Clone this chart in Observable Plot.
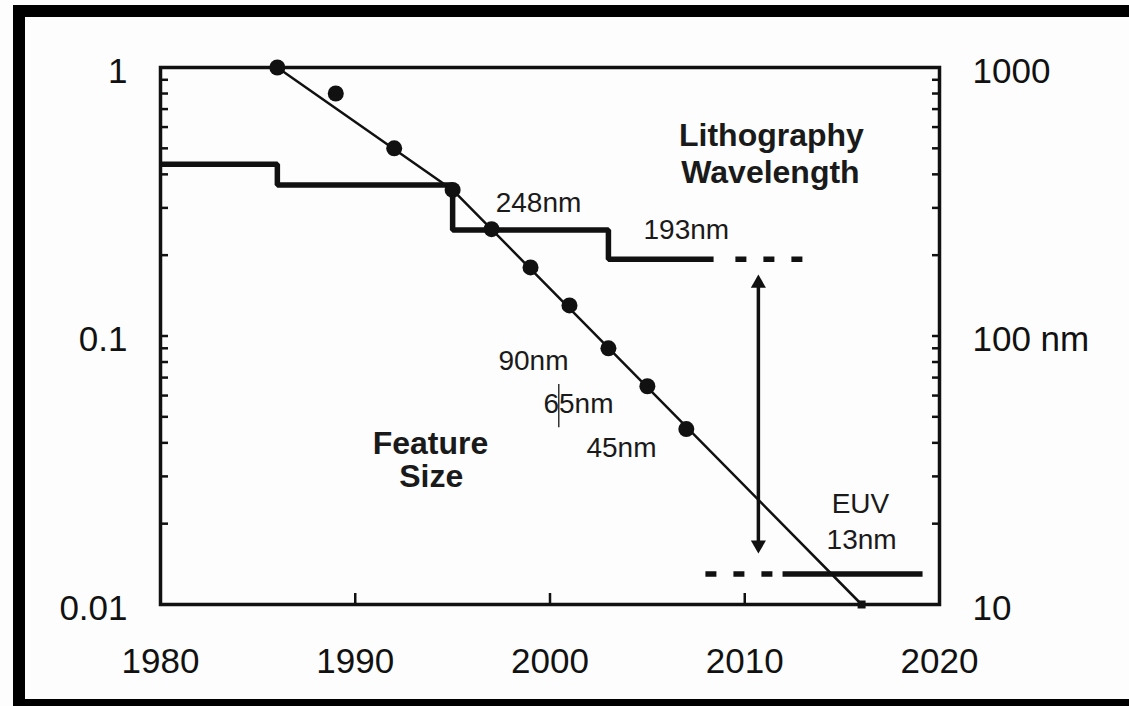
<!DOCTYPE html>
<html>
<head>
<meta charset="utf-8">
<script src="https://cdn.jsdelivr.net/npm/d3@7"></script>
<script src="https://cdn.jsdelivr.net/npm/@observablehq/plot@0.6"></script>
<style>
  html, body { margin: 0; padding: 0; background: #fff; }
  #wrap { position: relative; width: 1129px; height: 706px; overflow: hidden; background: #fdfdfd; }
  #wrap svg { position: absolute; left: 0; top: 0; }
  .bar { position: absolute; background: #000; }
</style>
</head>
<body>
<div id="wrap">
  <div class="bar" style="left:13px; top:5px; width:1116px; height:12px;"></div>
  <div class="bar" style="left:13px; top:5px; width:12px; height:701px;"></div>
  <div class="bar" style="left:13px; top:699px; width:1116px; height:7px;"></div>
</div>
<script>
// ---- Data ----
// Feature size (µm, left axis)
const featureYears = [1986, 1989, 1992, 1995, 1997, 1999, 2001, 2003, 2005, 2007];
const featureSizes = [1.0, 0.8, 0.5, 0.35, 0.25, 0.18, 0.13, 0.09, 0.065, 0.045];
// Trend line through the feature sizes
const trendYears = [1986, 1995, 2016];
const trendSizes = [1.0, 0.35, 0.01];
const trendEndYear = [2016];
const trendEndSize = [0.01];
// Lithography wavelength (nm, right axis)
const stepYears = [1980, 1986, 1995, 2003, 2008.4];
const stepWavelengths = [436, 365, 248, 193, 193];
const dashed193Years = [2009.52, 2012.97];
const dashed193Wavelength = 193;
const euvDashedYears = [2007.98, 2011.43];
const euvSolidYears = [2011.94, 2019.13];
const euvWavelength = 13;
// Gap arrow between 193nm and EUV
const arrowYear = 2010.7;
// Small cursor mark near "65nm"
const cursorYear = 2000.45;
const cursorSpan = [0.066, 0.0455];

// Axis ticks
const xTicks = [1980, 1990, 2000, 2010, 2020];
const xInnerTicks = [1990, 2000, 2010];
const leftTicks = [0.01, 0.1, 1];
const leftTickLabels = ["0.01", "0.1", "1"];
const rightTickLabels = ["10", "100 nm", "1000"];
const minorTicks = [0.02, 0.03, 0.04, 0.05, 0.06, 0.07, 0.08, 0.09, 0.1,
                    0.2, 0.3, 0.4, 0.5, 0.6, 0.7, 0.8, 0.9];

// Annotations
const noteTexts = ["248nm", "193nm", "90nm", "65nm", "45nm", "EUV", "13nm"];
const noteYears = [1999.41, 2007.0, 1999.15, 2001.46, 2003.67, 2015.94, 2016.0];
const noteValues = [0.3115, 0.249, 0.0804, 0.0556, 0.0381, 0.02357, 0.01731];
const titleTexts = ["Lithography", "Wavelength", "Feature", "Size"];
const titleYears = [2011.37, 2011.32, 1993.86, 1993.9];
const titleValues = [0.558, 0.4064, 0.0398, 0.02997];

// ---- Build tables ----
const features = featureYears.map((x, i) => ({x, y: featureSizes[i]}));
const trend = trendYears.map((x, i) => ({x, y: trendSizes[i]}));
const trendEnd = trendEndYear.map((x, i) => ({x, y: trendEndSize[i]}));
const steps = stepYears.map((x, i) => ({x, nm: stepWavelengths[i]}));
const dash193 = dashed193Years.map(x => ({x, nm: dashed193Wavelength}));
const euvDash = euvDashedYears.map(x => ({x, nm: euvWavelength}));
const euvSolid = euvSolidYears.map(x => ({x, nm: euvWavelength}));
const notes = noteTexts.map((t, i) => ({t, x: noteYears[i], y: noteValues[i]}));
const titles = titleTexts.map((t, i) => ({t, x: titleYears[i], y: titleValues[i]}));
const nmToUm = d => d.nm / 1000;

const ink = "#111";
const font = "'Liberation Sans', Arial, Helvetica, sans-serif";

const chart = Plot.plot({
  width: 1129,
  height: 706,
  marginLeft: 160,
  marginRight: 190,
  marginTop: 67,
  marginBottom: 102,
  x: {domain: [1980, 2020]},
  y: {type: "log", domain: [0.01, 1]},
  style: {fontFamily: font, color: ink, background: "transparent", overflow: "visible"},
  marks: [
    // axes labels
    Plot.axisX({ticks: xTicks, tickSize: 0, tickPadding: 44, fontSize: 35, tickFormat: d => String(d), label: null}),
    Plot.axisX({ticks: xInnerTicks, tickSize: 11, dy: -11, strokeWidth: 2.5, tickFormat: () => "", label: null}),
    Plot.axisY({anchor: "left", ticks: leftTicks, tickSize: 0, tickPadding: 33, dy: 4, fontSize: 35,
      tickFormat: d => leftTickLabels[leftTicks.indexOf(d)], label: null}),
    Plot.axisY({anchor: "right", ticks: leftTicks, tickSize: 0, tickPadding: 33, dy: 4, fontSize: 35,
      tickFormat: d => rightTickLabels[leftTicks.indexOf(d)], label: null}),
    Plot.axisY({anchor: "left", ticks: minorTicks, tickSize: 8, dx: 8, strokeWidth: 2.5, tickFormat: () => "", label: null}),
    Plot.axisY({anchor: "right", ticks: minorTicks, tickSize: 8, dx: -8, strokeWidth: 2.5, tickFormat: () => "", label: null}),
    Plot.frame({stroke: ink, strokeWidth: 3.5}),

    // wavelength steps
    Plot.line(steps, {x: "x", y: nmToUm, curve: "step-after", stroke: ink, strokeWidth: 5.5, strokeLinejoin: "miter", strokeLinecap: "butt"}),
    Plot.line(dash193, {x: "x", y: nmToUm, stroke: ink, strokeWidth: 5.5, strokeDasharray: "11,17", strokeLinecap: "butt"}),
    Plot.line(euvDash, {x: "x", y: nmToUm, stroke: ink, strokeWidth: 5.5, strokeDasharray: "11,17", strokeLinecap: "butt"}),
    Plot.line(euvSolid, {x: "x", y: nmToUm, stroke: ink, strokeWidth: 5.5, strokeLinecap: "butt"}),

    // gap arrow
    Plot.ruleX([arrowYear], {y1: dashed193Wavelength / 1000, y2: euvWavelength / 1000, insetTop: 20, insetBottom: 26, stroke: ink, strokeWidth: 3.5}),
    Plot.dot([arrowYear], {x: d => d, y: () => dashed193Wavelength / 1000, symbol: "triangle2", r: 7.2, dy: 24, fill: ink, stroke: "none"}),
    Plot.dot([arrowYear], {x: d => d, y: () => euvWavelength / 1000, symbol: "triangle2", r: 7.2, rotate: 180, dy: -29, fill: ink, stroke: "none"}),

    // feature size trend + points
    Plot.line(trend, {x: "x", y: "y", stroke: ink, strokeWidth: 2.5}),
    Plot.dot(features, {x: "x", y: "y", r: 8, fill: ink, stroke: "none"}),
    Plot.dot(trendEnd, {x: "x", y: "y", symbol: "square", r: 4.5, fill: ink, stroke: "none"}),

    // cursor mark
    Plot.ruleX([cursorYear], {y1: cursorSpan[0], y2: cursorSpan[1], stroke: "#333", strokeWidth: 1.5}),

    // annotations
    Plot.text(notes, {x: "x", y: "y", text: "t", fontSize: 28, fill: "#1a1a1a"}),
    Plot.text(titles, {x: "x", y: "y", text: "t", fontSize: 32, fontWeight: "bold", fill: "#1a1a1a"})
  ]
});
document.getElementById("wrap").appendChild(chart);
</script>
</body>
</html>
